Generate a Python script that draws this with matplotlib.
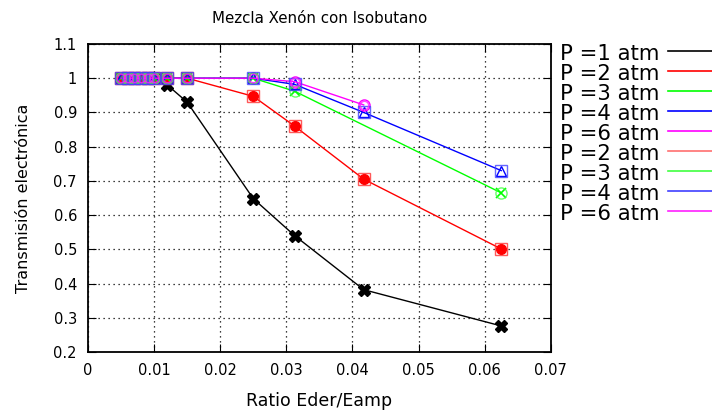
import numpy as np
import matplotlib
matplotlib.use('Agg')
import matplotlib.pyplot as plt
from matplotlib.lines import Line2D

# Datos: ratio Eder/Eamp y transmisión electrónica para cada presión
ratio = [0.005, 0.006, 0.007, 0.008, 0.009, 0.010, 0.012, 0.015, 0.025, 0.03125, 0.0417, 0.0625]

t_1atm = [1, 1, 1, 1, 1, 1, 0.98, 0.93, 0.648, 0.54, 0.382, 0.276]
t_2atm = [1, 1, 1, 1, 1, 1, 1, 1, 0.947, 0.86, 0.705, 0.501]

ratio_3 = [0.005, 0.006, 0.007, 0.008, 0.009, 0.010, 0.012, 0.015, 0.025, 0.03125, 0.0625]
t_3atm = [1, 1, 1, 1, 1, 1, 1, 1, 1, 0.962, 0.665]

t_4atm = [1, 1, 1, 1, 1, 1, 1, 1, 1, 0.982, 0.90, 0.73]

ratio_6 = [0.005, 0.006, 0.007, 0.008, 0.009, 0.010, 0.012, 0.015, 0.025, 0.03125, 0.0417]
t_6atm = [1, 1, 1, 1, 1, 1, 1, 1, 1, 0.99, 0.922]

etiquetas = ['P =1 atm', 'P =2 atm', 'P =3 atm', 'P =4 atm', 'P =6 atm',
             'P =2 atm', 'P =3 atm', 'P =4 atm', 'P =6 atm']
colores_leyenda = ['black', '#ff0000', '#00ff00', '#0000ff', '#ff00ff',
                   '#ff7070', '#40ff40', '#4040ff', '#ff20ff']

fig = plt.figure(figsize=(7.12, 4.17), dpi=100)
ax = fig.add_axes([0.1236, 0.156, 0.65, 0.7385])

# primera serie: líneas con puntos
ax.plot(ratio, t_1atm, color='black', lw=1, marker='X', ms=9, mec='black', mfc='black')
ax.plot(ratio, t_2atm, color='red', lw=1, marker='o', ms=7, mec='red', mfc='red')
ax.plot(ratio_3, t_3atm, color='#00ff00', lw=1, marker='x', ms=7, mew=1.2)
ax.plot(ratio, t_4atm, color='blue', lw=1, marker='^', ms=7, mfc='none', mec='blue')
ax.plot(ratio_6, t_6atm, color='magenta', lw=1, marker='o', ms=8, mfc='none', mec='magenta')

# segunda serie: solo puntos
ax.plot(ratio, t_2atm, ls='none', marker='s', ms=9, mfc='none', mec='#ff3030', alpha=0.8)
ax.plot(ratio_3, t_3atm, ls='none', marker='o', ms=8, mfc='none', mec='#40ff40', alpha=0.8)
ax.plot(ratio, t_4atm, ls='none', marker='s', ms=9, mfc='none', mec='#4040ff', alpha=0.8)
ax.plot(ratio_6, t_6atm, ls='none', marker='o', ms=6, mfc='none', mec='#ff20ff', alpha=0.8)

ax.set_xlim(0, 0.07)
ax.set_ylim(0.2, 1.1)
ax.set_xticks(np.arange(0, 0.0701, 0.01))
ax.set_xticklabels(['0', '0.01', '0.02', '0.03', '0.04', '0.05', '0.06', '0.07'])
ax.set_yticks(np.arange(0.2, 1.101, 0.1))
ax.set_yticklabels(['0.2', '0.3', '0.4', '0.5', '0.6', '0.7', '0.8', '0.9', '1', '1.1'])
ax.tick_params(direction='in', top=True, right=True, length=6, labelsize=10.5, pad=8)
ax.grid(True, color='black', ls=(0, (1, 3)), lw=0.9)
for s in ax.spines.values():
    s.set_linewidth(1.3)

ax.set_xlabel('Ratio Eder/Eamp', fontsize=12.5, labelpad=10)
ax.set_ylabel('Transmisión electrónica', fontsize=11.5, labelpad=16)
fig.text(0.449, 0.955, 'Mezcla Xenón con Isobutano', ha='center', va='center', fontsize=10.8)

# leyenda a mano, fuera del gráfico
for i, (txt, c) in enumerate(zip(etiquetas, colores_leyenda)):
    y = 1 - (54 + i * 20) / 417
    fig.text(560 / 712, y, txt, ha='left', va='center', fontsize=15.3)
    fig.add_artist(Line2D([668 / 712, 712 / 712], [y + 0.008, y + 0.008], color=c, lw=1.2,
                          transform=fig.transFigure))

fig.savefig('out.png', dpi=100)
